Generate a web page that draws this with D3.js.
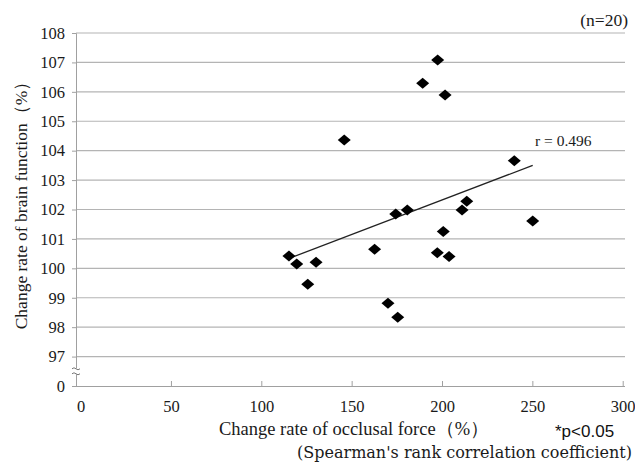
<!DOCTYPE html>
<html>
<head>
<meta charset="utf-8">
<script src="https://cdn.jsdelivr.net/npm/d3@7"></script>
<style>
body { margin: 0; background: #fff; }
svg { display: block; }
</style>
</head>
<body>
<div id="chart"></div>
<script>
var width = 635,
    height = 464;

// occlusal force change rate (%) and brain function change rate (%)
var occlusal = [197.6, 189.3, 201.7, 145.9, 240.0, 115.3, 119.6, 130.3, 125.7, 174.4,
                180.8, 213.7, 211.1, 200.7, 250.2, 162.7, 197.4, 203.9, 170.1, 175.5];
var brain    = [107.08, 106.29, 105.89, 104.36, 103.66, 100.42, 100.15, 100.21, 99.46, 101.85,
                101.98, 102.28, 101.98, 101.25, 101.61, 100.65, 100.53, 100.40, 98.81, 98.34];
var xTicks = [0, 50, 100, 150, 200, 250, 300];
var yTicks = [96, 97, 98, 99, 100, 101, 102, 103, 104, 105, 106, 107, 108];
var yTickLabels = ["0", "97", "98", "99", "100", "101", "102", "103", "104", "105", "106", "107", "108"];

var plotLeft = 76, plotRight = 625, plotTop = 33, plotBottom = 386;

var x = d3.scaleLinear().domain([0, 300]).range([80.6, 622.7]);
var y = d3.scaleLinear().domain([96, 108]).range([plotBottom, plotTop]);

var svg = d3.select("#chart").append("svg")
    .attr("width", width)
    .attr("height", height);

var serif = "'Liberation Serif', 'Times New Roman', serif";

// gridlines
svg.append("g")
  .selectAll("line")
  .data(yTicks.slice(1))
  .enter().append("line")
    .attr("x1", plotLeft)
    .attr("x2", plotRight)
    .attr("y1", function(d) { return y(d); })
    .attr("y2", function(d) { return y(d); })
    .attr("stroke", "#b4b4b4")
    .attr("stroke-width", 1.2);

// y axis
var yAxis = svg.append("g")
    .attr("transform", "translate(" + plotLeft + ",0)")
    .call(d3.axisLeft(y)
      .tickValues(yTicks)
      .tickSize(4)
      .tickFormat(function(d, i) { return yTickLabels[i]; }));
yAxis.select(".domain").attr("stroke", "#a0a0a0");
yAxis.selectAll(".tick line").attr("stroke", "#a0a0a0");
yAxis.selectAll("text")
    .attr("x", -11)
    .attr("font-family", serif)
    .attr("font-size", 16.5)
    .attr("fill", "#1a1a1a");

// x axis (ticks inside)
var xAxis = svg.append("g")
    .attr("transform", "translate(0," + plotBottom + ")")
    .call(d3.axisBottom(x).tickValues(xTicks).tickSize(-5).tickPadding(14));
xAxis.select(".domain").attr("d", "M" + plotLeft + ",0.5H" + plotRight).attr("stroke", "#a0a0a0");
xAxis.selectAll(".tick line").attr("stroke", "#a0a0a0");
xAxis.selectAll(".tick").filter(function(d) { return d === 0; }).select("line").remove();
xAxis.selectAll("text")
    .attr("font-family", serif)
    .attr("font-size", 16.5)
    .attr("fill", "#1a1a1a");

// axis break mark
var yb = y(96.5);
svg.append("rect")
    .attr("x", plotLeft - 4).attr("y", yb - 3)
    .attr("width", 8).attr("height", 6)
    .attr("fill", "#fff");
[-2.5, 2.5].forEach(function(o) {
  svg.append("path")
      .attr("d", "M" + (plotLeft - 4) + "," + (yb + o) + "q2,-2 4,0 t4,0")
      .attr("fill", "none")
      .attr("stroke", "#777")
      .attr("stroke-width", 1);
});

// trend line (least squares)
var mx = d3.mean(occlusal),
    my = d3.mean(brain);
var sxy = d3.sum(occlusal, function(d, i) { return (d - mx) * (brain[i] - my); }),
    sxx = d3.sum(occlusal, function(d) { return (d - mx) * (d - mx); });
var slope = sxy / sxx, intercept = my - slope * mx;
var ext = d3.extent(occlusal);
svg.append("line")
    .attr("x1", x(ext[0])).attr("y1", y(intercept + slope * ext[0]))
    .attr("x2", x(ext[1])).attr("y2", y(intercept + slope * ext[1]))
    .attr("stroke", "#222")
    .attr("stroke-width", 1.3);

// points
svg.append("g")
  .selectAll("path")
  .data(occlusal)
  .enter().append("path")
    .attr("transform", function(d, i) { return "translate(" + x(d) + "," + y(brain[i]) + ")"; })
    .attr("d", "M0,-5.5L6.5,0L0,5.5L-6.5,0Z")
    .attr("fill", "#000");

// texts
svg.append("text")
    .attr("transform", "translate(27,201) rotate(-90)")
    .attr("text-anchor", "middle")
    .attr("font-family", serif)
    .attr("font-size", 17.5)
    .attr("fill", "#1a1a1a")
    .text("Change rate of  brain function（%）");

svg.append("text")
    .attr("x", 354).attr("y", 435)
    .attr("text-anchor", "middle")
    .attr("font-family", serif)
    .attr("font-size", 18.5)
    .attr("fill", "#1a1a1a")
    .text("Change rate of occlusal force（%）");

svg.append("text")
    .attr("x", 555).attr("y", 437)
    .attr("font-family", "'Liberation Sans', Arial, sans-serif")
    .attr("font-size", 17)
    .attr("fill", "#111")
    .text("*p<0.05");

svg.append("text")
    .attr("x", 297).attr("y", 458)
    .attr("font-family", "'DejaVu Serif', serif")
    .attr("font-size", 16)
    .attr("textLength", 335)
    .attr("lengthAdjust", "spacingAndGlyphs")
    .attr("fill", "#1a1a1a")
    .text("(Spearman's rank correlation coefficient)");

svg.append("text")
    .attr("x", 628).attr("y", 26)
    .attr("text-anchor", "end")
    .attr("font-family", serif)
    .attr("font-size", 17.5)
    .attr("fill", "#1a1a1a")
    .text("(n=20)");

svg.append("text")
    .attr("x", 535).attr("y", 146)
    .attr("font-family", serif)
    .attr("font-size", 15.5)
    .attr("fill", "#1a1a1a")
    .text("r = 0.496");
</script>
</body>
</html>
